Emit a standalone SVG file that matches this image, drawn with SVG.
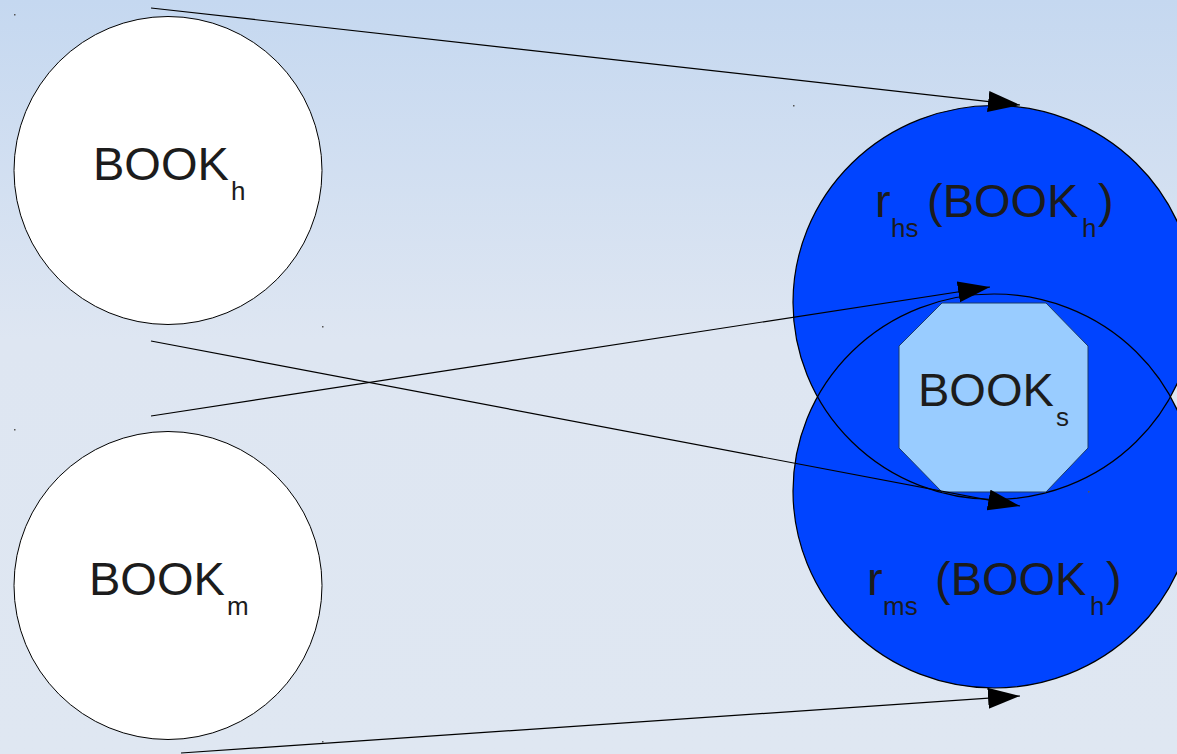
<svg xmlns="http://www.w3.org/2000/svg" width="1177" height="754" viewBox="0 0 1177 754">
<defs>
<linearGradient id="bg" x1="0" y1="0" x2="0" y2="1">
<stop offset="0" stop-color="#C5D8F0"/>
<stop offset="0.45" stop-color="#DEE6F2"/>
<stop offset="1" stop-color="#DFE7F2"/>
</linearGradient>
<marker id="arr" markerUnits="userSpaceOnUse" markerWidth="34" markerHeight="22" refX="32" refY="10.5" orient="auto">
<path d="M0,0 L32,10.5 L0,21 z" fill="#000"/>
</marker>
<style>
.big{font-family:"Liberation Sans",Arial,sans-serif;font-size:47px;fill:#1c1c1c}
.sub{font-family:"Liberation Sans",Arial,sans-serif;font-size:26px;fill:#1c1c1c}
.white{fill:#fff;stroke:#000;stroke-width:1}
.blue{fill:#0044FF}
.outline{fill:none;stroke:#000;stroke-width:1.2}
.conn{fill:none;stroke:#000;stroke-width:1.2;marker-end:url(#arr)}
.dot{fill:#555}
</style>
</defs>
<rect x="0" y="0" width="1177" height="754" fill="url(#bg)"/>

<g id="book-h">
<circle class="white" cx="168" cy="170.5" r="154"/>
<text class="big"><tspan x="93" y="180">BOOK</tspan><tspan class="sub" x="231" y="200">h</tspan></text>
</g>

<g id="book-m">
<circle class="white" cx="168" cy="585.5" r="154"/>
<text class="big"><tspan x="89" y="595">BOOK</tspan><tspan class="sub" x="227" y="615">m</tspan></text>
</g>

<g id="r-hs">
<ellipse class="blue" cx="994" cy="302.5" rx="201" ry="197"/>
</g>
<g id="r-ms">
<ellipse class="blue" cx="994" cy="491" rx="201" ry="197"/>
</g>
<g id="outlines">
<ellipse class="outline" cx="994" cy="302.5" rx="201" ry="197"/>
<ellipse class="outline" cx="994" cy="491" rx="201" ry="197"/>
</g>

<g id="r-hs-label">
<text class="big"><tspan x="875" y="217">r</tspan><tspan class="sub" x="891" y="237">hs</tspan><tspan x="927" y="217">(BOOK</tspan><tspan class="sub" x="1082" y="237">h</tspan><tspan x="1098" y="217">)</tspan></text>
</g>

<g id="r-ms-label">
<text class="big"><tspan x="867" y="595">r</tspan><tspan class="sub" x="883" y="615">ms</tspan><tspan x="935" y="595">(BOOK</tspan><tspan class="sub" x="1090" y="615">h</tspan><tspan x="1106" y="595">)</tspan></text>
</g>

<g id="book-s">
<polygon points="942,303 1046,303 1088,346 1088,448 1046,492 942,492 899,448 899,346" fill="#99CCFF" stroke="#1a3a6a" stroke-width="1"/>
<text class="big"><tspan x="918" y="406">BOOK</tspan><tspan class="sub" x="1056" y="426">s</tspan></text>
</g>

<g id="connectors">
<line class="conn" x1="151" y1="8" x2="1020" y2="105"/>
<line class="conn" x1="151" y1="341" x2="1020" y2="506"/>
<line class="conn" x1="151" y1="416" x2="990" y2="287"/>
<line class="conn" x1="181" y1="753" x2="1020" y2="696"/>
</g>

<g id="marks">
<rect class="dot" x="14" y="14" width="1.5" height="1.5"/>
<rect class="dot" x="322" y="326" width="1.5" height="1.5"/>
<rect class="dot" x="14" y="429" width="1.5" height="1.5"/>
<rect class="dot" x="322" y="741" width="1.5" height="1.5"/>
<rect class="dot" x="793" y="105" width="1.5" height="1.5"/>
<rect class="dot" x="1088" y="491" width="1.5" height="1.5"/>
</g>
</svg>
